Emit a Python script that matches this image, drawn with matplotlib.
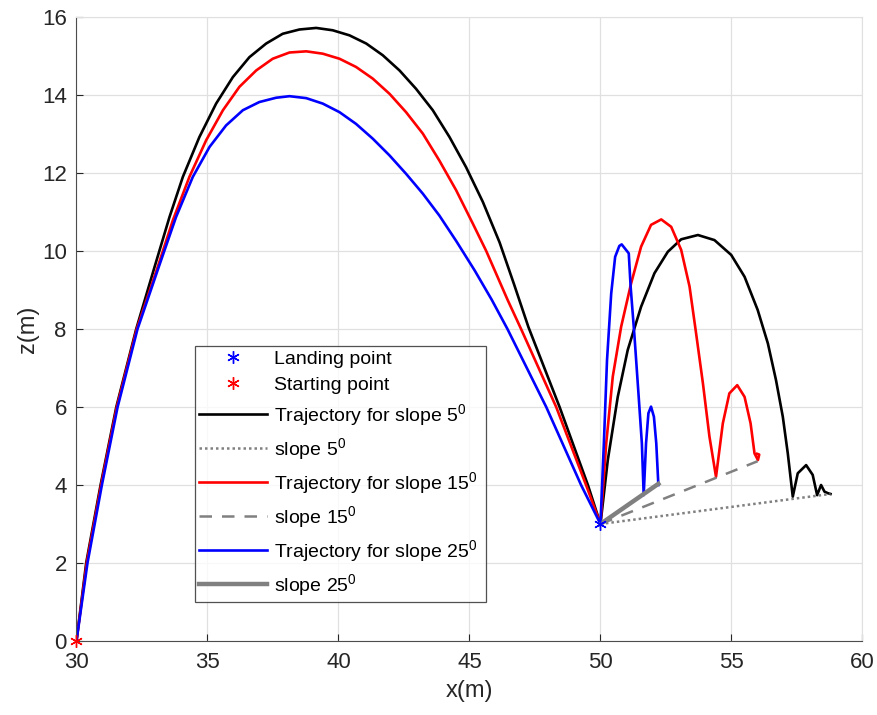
import matplotlib
matplotlib.use("Agg")
import matplotlib.pyplot as plt

plt.rcParams['font.family'] = ['Liberation Sans', 'DejaVu Sans']
plt.rcParams['mathtext.default'] = 'regular'

# trajectory for slope 5 deg (black): flight + bounces
x_black = [30.0, 30.37, 30.92, 31.52, 32.28, 32.98, 33.55, 34.06, 34.69, 35.33, 35.97, 36.6,
           37.24, 37.87, 38.51, 39.15, 39.78, 40.42, 41.06, 41.69, 42.33, 42.96, 43.6,
           44.24, 44.87, 45.51, 46.15, 46.7, 47.25, 48.44, 49.52, 50.0,
           50.28, 50.66, 51.04, 51.55, 52.06, 52.57, 53.08, 53.72, 54.35, 54.99, 55.5,
           56.0, 56.39, 56.7, 56.96, 57.15, 57.34,
           57.53, 57.85, 58.1, 58.27, 58.42, 58.55, 58.68, 58.78]
z_black = [0.0, 2.0, 4.0, 6.0, 8.0, 9.59, 10.87, 11.9, 12.92, 13.78, 14.46, 14.97,
           15.32, 15.57, 15.68, 15.72, 15.66, 15.53, 15.32, 15.02, 14.63, 14.16, 13.61,
           12.92, 12.15, 11.26, 10.22, 9.15, 8.05, 6.0, 4.0, 3.0,
           4.64, 6.26, 7.46, 8.57, 9.43, 9.98, 10.3, 10.41, 10.28, 9.9, 9.34,
           8.49, 7.63, 6.69, 5.75, 4.81, 3.7,
           4.3, 4.51, 4.26, 3.74, 4.0, 3.83, 3.79, 3.77]

# trajectory for slope 15 deg (red)
x_red = [30.0, 30.39, 30.94, 31.54, 32.3, 33.1, 33.68, 34.31, 34.95, 35.59, 36.22, 36.86,
         37.49, 38.13, 38.77, 39.4, 40.04, 40.67, 41.31, 41.95, 42.58, 43.22, 43.85,
         44.49, 45.13, 45.64, 46.46, 46.97, 48.31, 49.45, 50.0,
         50.22, 50.47, 50.79, 51.17, 51.55, 51.93, 52.32, 52.7, 53.08, 53.4, 53.65,
         53.91, 54.16, 54.41,
         54.67, 54.92, 55.22, 55.5, 55.73, 55.88, 56.01, 56.06, 55.98]
z_red = [0.0, 2.0, 4.0, 6.0, 8.0, 9.59, 10.79, 11.9, 12.84, 13.61, 14.21, 14.63,
         14.93, 15.09, 15.12, 15.06, 14.93, 14.72, 14.42, 14.03, 13.56, 13.01, 12.32,
         11.56, 10.7, 10.0, 8.74, 8.0, 6.0, 4.0, 3.0,
         5.07, 6.78, 8.06, 9.17, 10.11, 10.67, 10.81, 10.62, 10.03, 9.09, 7.89,
         6.61, 5.24, 4.21,
         5.58, 6.35, 6.56, 6.26, 5.58, 4.81, 4.64, 4.78, 4.8]

# trajectory for slope 25 deg (blue)
x_blue = [30.0, 30.42, 30.97, 31.57, 32.33, 33.14, 33.8, 34.44, 35.08, 35.71, 36.35, 36.98,
          37.62, 38.13, 38.77, 39.4, 40.04, 40.67, 41.31, 41.95, 42.58, 43.22, 43.85,
          44.5, 45.2, 45.85, 46.45, 47.93, 49.26, 50.0,
          50.13, 50.25, 50.41, 50.56, 50.72, 50.81, 51.08, 51.15, 51.3, 51.45, 51.58, 51.65,
          51.74, 51.83, 51.93, 52.04, 52.13, 52.21]
z_blue = [0.0, 2.0, 4.0, 6.0, 8.0, 9.59, 10.87, 11.9, 12.67, 13.22, 13.61, 13.82,
          13.93, 13.97, 13.92, 13.78, 13.56, 13.26, 12.88, 12.45, 11.98, 11.47, 10.91,
          10.25, 9.5, 8.75, 8.0, 6.0, 4.0, 3.0,
          5.07, 7.2, 8.91, 9.85, 10.13, 10.17, 9.94, 9.1, 7.8, 6.35, 5.07, 3.74,
          5.07, 5.84, 6.01, 5.75, 5.07, 4.0]

# slope lines
x_slope5, z_slope5 = [50.0, 58.78], [3.0, 3.77]
x_slope15, z_slope15 = [50.0, 56.0], [3.0, 4.61]
x_slope25, z_slope25 = [50.0, 52.21], [3.0, 4.03]

landing = (50.0, 3.0)
start = (30.0, 0.0)

gray = (0.5, 0.5, 0.5)
dark = (0.15, 0.15, 0.15)
ast = (6, 2, 0)

fig = plt.figure(figsize=(8.78, 7.15), dpi=100)
ax = fig.add_axes([0.0871, 0.1035, 0.8952, 0.8727])

h_land, = ax.plot(*landing, linestyle='none', marker=ast, color='blue', markersize=9, mew=1.0, zorder=6)
h_start, = ax.plot(*start, linestyle='none', marker=ast, color='red', markersize=9, mew=1.0, zorder=6, clip_on=False)
h_b, = ax.plot(x_black, z_black, color='black', lw=1.9)
h_s5, = ax.plot(x_slope5, z_slope5, color=gray, lw=1.8, linestyle=(0, (1, 1.2)))
h_r, = ax.plot(x_red, z_red, color='red', lw=1.9)
h_s15, = ax.plot(x_slope15, z_slope15, color=gray, lw=1.8, linestyle=(0, (5, 4)))
h_bl, = ax.plot(x_blue, z_blue, color='blue', lw=1.9)
h_s25, = ax.plot(x_slope25, z_slope25, color=gray, lw=3.2)

ax.set_xlim(30, 60)
ax.set_ylim(0, 16)
ax.set_xticks(range(30, 61, 5))
ax.set_yticks(range(0, 17, 2))
ax.grid(True, color=(0.88, 0.88, 0.88), lw=0.9)
ax.set_axisbelow(True)
ax.tick_params(direction='in', labelsize=16, colors=dark, length=5)
ax.tick_params(axis='x', pad=8)
ax.tick_params(axis='y', pad=7)
for side in ['left', 'bottom']:
    ax.spines[side].set_color((0.3, 0.3, 0.3))
for side in ['top', 'right']:
    ax.spines[side].set_color((0.88, 0.88, 0.88))
ax.set_xlabel('x(m)', fontsize=17, color=dark, labelpad=5)
ax.set_ylabel('z(m)', fontsize=17, color=dark, labelpad=2)

labels = ['Landing point', 'Starting point',
          'Trajectory for slope 5$^0$', 'slope 5$^0$',
          'Trajectory for slope 15$^0$', 'slope 15$^0$',
          'Trajectory for slope 25$^0$', 'slope 25$^0$']
leg = ax.legend([h_land, h_start, h_b, h_s5, h_r, h_s15, h_bl, h_s25], labels,
                loc='lower left', bbox_to_anchor=(0.151, 0.0625, 0.37, 0.4035), mode='expand',
                fontsize=14, frameon=True, fancybox=False, edgecolor=dark,
                handlelength=3.5, labelspacing=0.42, borderaxespad=0, handletextpad=0.35,
                borderpad=0.2)
leg.get_frame().set_linewidth(0.9)

fig.savefig('out.png', dpi=100)
